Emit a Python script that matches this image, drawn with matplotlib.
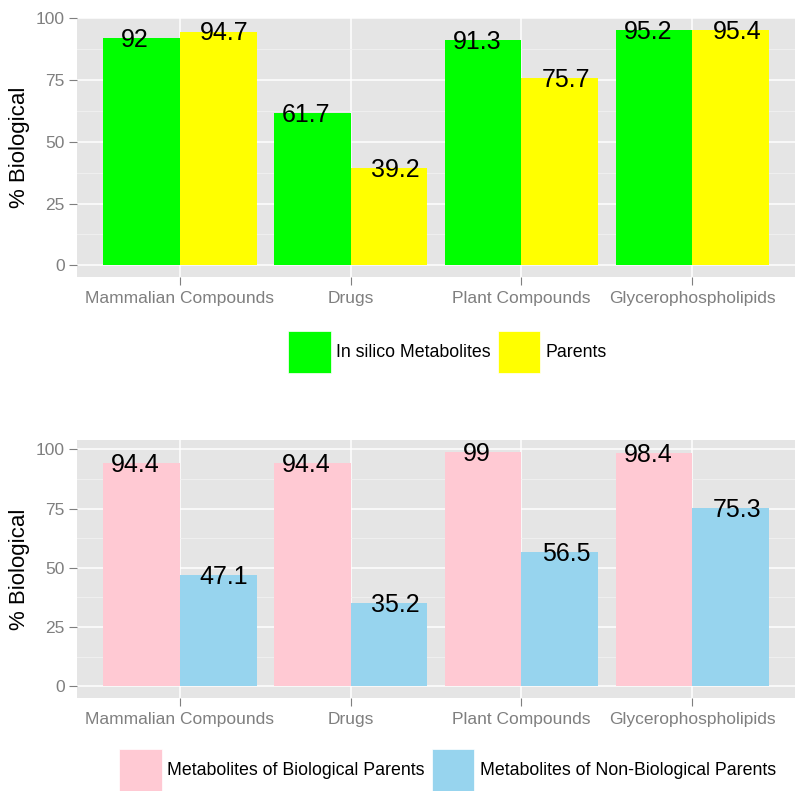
import matplotlib
matplotlib.use("Agg")
import matplotlib.pyplot as plt
from matplotlib.patches import Patch
import numpy as np

matplotlib.rcParams['font.family'] = ['Liberation Sans', 'DejaVu Sans']

# donnees
categories = ["Mammalian Compounds", "Drugs", "Plant Compounds", "Glycerophospholipids"]

top_labels = ["In silico Metabolites", "Parents"]
top_metabolites = [92, 61.7, 91.3, 95.2]
top_parents = [94.7, 39.2, 75.7, 95.4]

bottom_labels = ["Metabolites of Biological Parents", "Metabolites of Non-Biological Parents"]
bottom_bio = [94.4, 94.4, 99, 98.4]
bottom_nonbio = [47.1, 35.2, 56.5, 75.3]

top_colors = ["#00FF00", "#FFFF00"]
bottom_colors = ["#FFC9D3", "#97D4EE"]

W, H = 796, 791
fig = plt.figure(figsize=(W / 100, H / 100), dpi=100)

grey = "#7F7F7F"


def panel(rect, s1, s2, colors, labels, leg_y):
    ax = fig.add_axes(rect)
    ax.set_facecolor("#E5E5E5")
    x = np.arange(1, len(categories) + 1)
    w = 0.45
    ax.bar(x - w / 2, s1, width=w, color=colors[0], zorder=2)
    ax.bar(x + w / 2, s2, width=w, color=colors[1], zorder=2)
    for xi, v in zip(x, s1):
        ax.text(xi - 0.26, v - 0.8, f"{v:g}", ha="center", va="center", fontsize=18, zorder=3)
    for xi, v in zip(x, s2):
        ax.text(xi + 0.26, v - 0.8, f"{v:g}", ha="center", va="center", fontsize=18, zorder=3)

    ymax = max(max(s1), max(s2))
    ax.set_ylim(-0.05 * ymax, 1.05 * ymax)
    ax.set_xlim(0.4, len(categories) + 0.6)
    ax.set_yticks([0, 25, 50, 75, 100])
    ax.set_yticks([12.5, 37.5, 62.5, 87.5], minor=True)
    ax.set_xticks(x)
    ax.set_xticklabels(categories)
    ax.grid(which="major", color="white", linewidth=1.1, zorder=1)
    ax.grid(which="minor", axis="y", color="#F2F2F2", linewidth=0.6, zorder=1)
    ax.set_axisbelow(True)
    for s in ax.spines.values():
        s.set_visible(False)
    ax.tick_params(which="major", length=6, color=grey, labelcolor=grey, labelsize=12.5, pad=3)
    ax.tick_params(axis="x", pad=4)
    ax.tick_params(which="minor", length=0)
    ax.set_ylabel("% Biological", fontsize=16, labelpad=4)

    handles = [Patch(facecolor=colors[0], edgecolor="white", linewidth=0.5),
               Patch(facecolor=colors[1], edgecolor="white", linewidth=0.5)]
    fig.legend(handles, labels, loc="center", bbox_to_anchor=(0.562, leg_y), ncol=2,
               frameon=False, fontsize=12.8, handlelength=2.4, handleheight=3.3,
               handletextpad=0.3, columnspacing=0.4, borderpad=0, borderaxespad=0)
    return ax


panel([77 / W, 1 - 277 / H, 718 / W, 259 / H], top_metabolites, top_parents,
      top_colors, top_labels, 1 - 352 / H)
panel([77 / W, 1 - 698 / H, 718 / W, 258 / H], bottom_bio, bottom_nonbio,
      bottom_colors, bottom_labels, 1 - 770 / H)

fig.savefig("out.png", dpi=100)
